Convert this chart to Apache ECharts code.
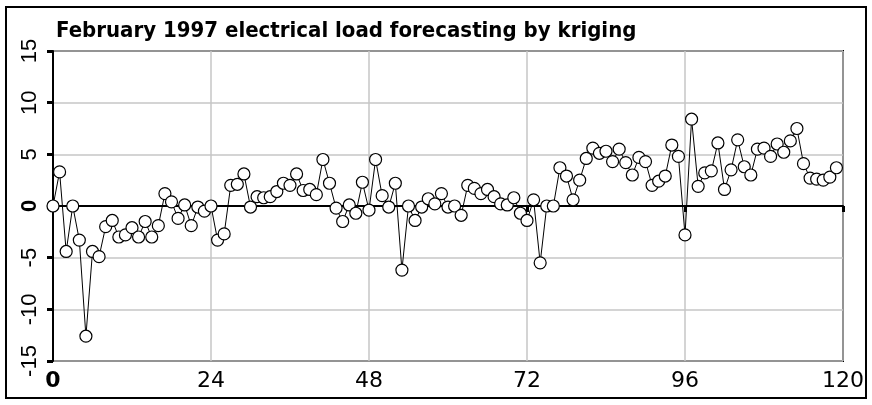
<!DOCTYPE html>
<html>
<head>
<meta charset="utf-8">
<script src="https://cdn.jsdelivr.net/npm/echarts@6/dist/echarts.min.js"></script>
<style>
  html, body { margin: 0; padding: 0; background: #fff; }
  #chart { width: 872px; height: 405px; }
</style>
</head>
<body>
<div id="chart"></div>
<script>
// Hourly forecast error, February 1997 (hour index 0..119)
const hours = Array.from({ length: 120 }, (_, i) => i);
const errors = [
  0.0, 3.3, -4.4, 0.0, -3.3, -12.6, -4.4, -4.9, -2.0, -1.4,
  -3.0, -2.8, -2.1, -3.0, -1.5, -3.0, -1.9, 1.2, 0.4, -1.2,
  0.1, -1.9, -0.1, -0.5, 0.0, -3.3, -2.7, 2.0, 2.1, 3.1,
  -0.1, 0.9, 0.8, 0.9, 1.4, 2.2, 2.0, 3.1, 1.5, 1.6,
  1.1, 4.5, 2.2, -0.2, -1.5, 0.1, -0.7, 2.3, -0.4, 4.5,
  1.0, -0.1, 2.2, -6.2, 0.0, -1.4, -0.1, 0.7, 0.2, 1.2,
  -0.1, 0.0, -0.9, 2.0, 1.7, 1.2, 1.6, 0.9, 0.2, 0.1,
  0.8, -0.7, -1.4, 0.6, -5.5, 0.0, 0.0, 3.7, 2.9, 0.6,
  2.5, 4.6, 5.6, 5.1, 5.3, 4.3, 5.5, 4.2, 3.0, 4.7,
  4.3, 2.0, 2.4, 2.9, 5.9, 4.8, -2.8, 8.4, 1.9, 3.2,
  3.4, 6.1, 1.6, 3.5, 6.4, 3.8, 3.0, 5.5, 5.6, 4.8,
  6.0, 5.2, 6.3, 7.5, 4.1, 2.7, 2.6, 2.5, 2.8, 3.7
];
const xTicks = [0, 24, 48, 72, 96, 120];
const yTicks = [-15, -10, -5, 0, 5, 10, 15];

const titleText = 'February 1997 electrical load forecasting by kriging';

const chart = echarts.init(document.getElementById('chart'), null, { renderer: 'canvas' });

const data = hours.map((h, i) => [h, errors[i]]);

chart.setOption({
  animation: false,
  backgroundColor: '#ffffff',
  title: {
    text: titleText,
    left: 51,
    top: 15,
    textStyle: {
      fontFamily: '"Liberation Sans Narrow", "DejaVu Sans Condensed", sans-serif',
      fontWeight: 'bold',
      fontSize: 22,
      color: '#000'
    }
  },
  graphic: [{
    type: 'rect',
    shape: { x: 6, y: 7, width: 860, height: 391 },
    style: { fill: 'none', stroke: '#000', lineWidth: 2 },
    silent: true,
    z: -1
  }],
  grid: {
    left: 53,
    top: 51,
    right: 29,
    bottom: 44,
    show: true,
    borderColor: '#000',
    borderWidth: 2,
    backgroundColor: 'transparent'
  },
  xAxis: {
    type: 'value',
    min: xTicks[0],
    max: xTicks[xTicks.length - 1],
    interval: 24,
    axisLine: { show: true, lineStyle: { color: '#000', width: 2 } },
    axisTick: { show: true, length: 6, lineStyle: { color: '#000', width: 3 } },
    splitLine: { show: true, lineStyle: { color: '#c6c6c6', width: 1.5 } },
    axisLabel: {
      margin: 9,
      fontFamily: '"DejaVu Sans", sans-serif',
      fontSize: 22,
      color: '#000',
      formatter: v => xTicks.includes(v) ? (v === 0 ? '{b|0}' : String(v)) : '',
      rich: { b: { fontFamily: '"DejaVu Sans", sans-serif', fontSize: 22, fontWeight: 'bold', color: '#000' } }
    }
  },
  yAxis: {
    type: 'value',
    min: yTicks[0],
    max: yTicks[yTicks.length - 1],
    interval: 5,
    axisLine: { show: true, onZero: false, lineStyle: { color: '#000', width: 2 } },
    axisTick: { show: true, length: 6, lineStyle: { color: '#000', width: 3 } },
    splitLine: { show: true, lineStyle: { color: '#c6c6c6', width: 1.5 } },
    axisLabel: {
      rotate: 90,
      margin: 12,
      fontFamily: '"Liberation Sans", Arial, sans-serif',
      fontSize: 22,
      color: '#000',
      formatter: v => yTicks.includes(v) ? (v === 0 ? '{b|0}' : String(v)) : '',
      rich: { b: { fontFamily: '"Liberation Sans", Arial, sans-serif', fontSize: 22, fontWeight: 'bold', color: '#000' } }
    }
  },
  series: [{
    type: 'line',
    data: data,
    symbol: 'circle',
    symbolSize: 12,
    showAllSymbol: true,
    lineStyle: { color: '#000', width: 1 },
    itemStyle: { color: '#fff', borderColor: '#000', borderWidth: 1.2 },
    emphasis: { disabled: true },
    markLine: {
      silent: true,
      symbol: 'none',
      label: { show: false },
      lineStyle: { color: '#000', width: 1.5, type: 'solid' },
      data: [{ yAxis: 0 }],
      z: 1
    }
  }]
});
</script>
</body>
</html>
